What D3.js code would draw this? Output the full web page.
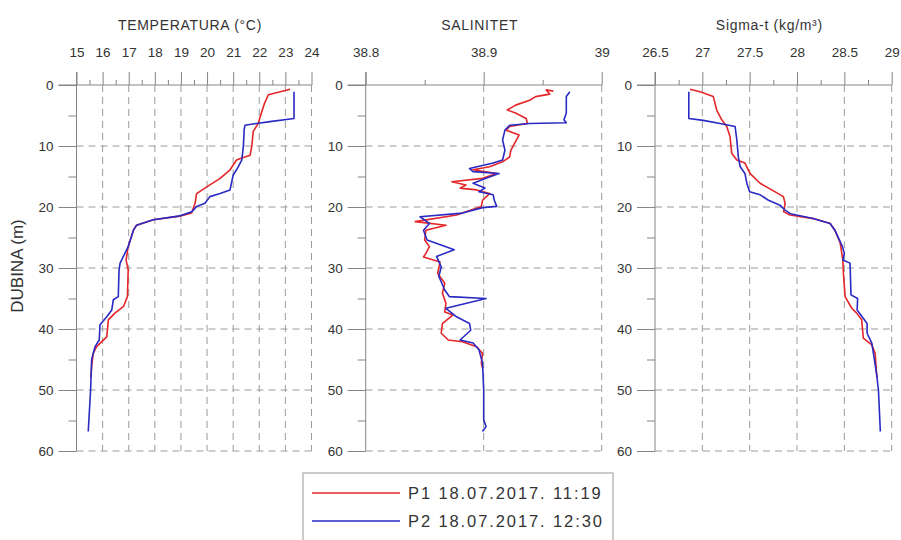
<!DOCTYPE html>
<html>
<head>
<meta charset="utf-8">
<script src="https://cdn.jsdelivr.net/npm/d3@7"></script>
<style>
  body { margin: 0; background: #fff; }
  svg { font-family: "Liberation Sans", Arial, sans-serif; }
</style>
</head>
<body>
<svg id="chart" width="901" height="540"></svg>
<script>
// profiles as [depth (m), value]
const tempP1 = [[0.7,23.18],[1.6,22.35],[3,22.2],[5,22.05],[6.3,21.96],[7.6,21.77],[10.1,21.71],[11.5,21.65],[12,21.3],[12.3,21.13],[13.9,20.88],[15.3,20.5],[16.7,19.99],[17.8,19.6],[19.4,19.54],[21,19.41],[21.5,18.96],[22.1,17.94],[23,17.3],[23.8,17.18],[26.5,16.98],[28.7,16.9],[30.3,16.98],[34.7,16.95],[36.3,16.8],[37.4,16.47],[38.5,16.22],[41.3,16.16],[42.9,15.77],[44,15.64],[46.2,15.58],[48,15.55]];
const tempP2 = [[1.1,23.33],[5.5,23.33],[6,22.41],[6.3,21.9],[6.6,21.45],[7.4,21.42],[10.1,21.39],[12.3,21.33],[13.9,21.13],[14.75,21.0],[17.2,20.88],[17.8,20.5],[18.3,20.11],[19.4,19.92],[19.9,19.6],[20.8,19.41],[21.5,18.9],[22.1,17.94],[23,17.3],[23.8,17.18],[26.5,16.98],[29.2,16.67],[30.3,16.63],[34.7,16.6],[35.2,16.41],[36.9,16.35],[38,16.16],[39.3,15.9],[41.8,15.87],[42.9,15.71],[45,15.58],[50,15.54],[56.8,15.45]];

const salP1 = [[1,38.959],[0.8,38.953],[1.5,38.956],[1.9,38.944],[2.5,38.939],[3.3,38.927],[4.1,38.92],[4.6,38.927],[5.5,38.936],[6.3,38.937],[6.8,38.922],[7.4,38.919],[8.2,38.93],[9.6,38.926],[10.7,38.923],[11.8,38.922],[12.6,38.916],[13.4,38.905],[13.9,38.891],[14.5,38.911],[15.3,38.899],[15.85,38.873],[16.4,38.885],[16.9,38.88],[17.2,38.894],[17.8,38.905],[18.9,38.899],[19.9,38.898],[21.3,38.877],[22.4,38.842],[23,38.868],[23.8,38.851],[25.4,38.85],[26.5,38.854],[27.6,38.851],[28.2,38.849],[29,38.863],[30.9,38.861],[32.5,38.867],[34.1,38.865],[35.8,38.868],[37.2,38.867],[37.7,38.874],[39.1,38.865],[40.7,38.864],[41.8,38.87],[42.1,38.882],[42.9,38.894],[44,38.899],[45.6,38.898],[46.4,38.899]];
const salP2 = [[1.1,38.973],[1.9,38.97],[4.6,38.97],[5.7,38.968],[6.2,38.97],[6.3,38.939],[6.6,38.922],[7.4,38.918],[9,38.916],[10.7,38.918],[12.3,38.916],[12.8,38.908],[13.7,38.888],[14.2,38.891],[14.5,38.913],[15.3,38.902],[16.1,38.891],[16.9,38.901],[17.5,38.896],[18,38.908],[18.9,38.909],[19.9,38.911],[20.1,38.899],[21,38.882],[21.6,38.846],[22.7,38.854],[23.8,38.849],[25.4,38.852],[26.5,38.868],[27,38.875],[28.1,38.86],[29.8,38.864],[31.4,38.862],[33.6,38.867],[34.7,38.871],[35,38.902],[36.6,38.868],[38,38.877],[39.1,38.888],[40.2,38.889],[41.8,38.88],[42.3,38.891],[43.4,38.896],[45.6,38.899],[50,38.9],[54.9,38.9],[56,38.902],[56.8,38.899]];

const sigP1 = [[0.7,26.87],[1.1,26.976],[1.9,27.116],[4.1,27.152],[5.7,27.205],[6.8,27.258],[8.5,27.293],[11.2,27.31],[12.3,27.364],[12.8,27.45],[14.5,27.503],[16.1,27.61],[17.2,27.733],[18.3,27.856],[19.4,27.874],[20.8,27.86],[21.3,27.927],[21.9,28.173],[22.7,28.35],[23.8,28.4],[25.9,28.456],[28.7,28.484],[30.9,28.49],[34.7,28.508],[36.6,28.578],[37.4,28.63],[38.5,28.683],[41.5,28.7],[42.6,28.79],[44,28.825],[47.3,28.84],[48,28.845]];
const sigP2 = [[1.1,26.857],[5.5,26.857],[5.8,27.01],[6.3,27.187],[6.8,27.346],[9,27.364],[11.8,27.38],[13.4,27.4],[14.5,27.45],[16.1,27.47],[17.5,27.5],[18,27.61],[18.9,27.698],[19.7,27.82],[20.5,27.874],[21.1,27.93],[21.9,28.17],[22.7,28.35],[23.8,28.4],[26.5,28.48],[27.6,28.5],[28.7,28.484],[29.2,28.56],[34.4,28.57],[35,28.64],[36.9,28.635],[39.1,28.74],[40.7,28.74],[42.3,28.79],[47.3,28.84],[50,28.86],[56.8,28.88]];

const depthTicks = [0, 10, 20, 30, 40, 50, 60];
const depthMinor = [5, 15, 25, 35, 45, 55];
const seriesNames = ["P1 18.07.2017. 11:19", "P2 18.07.2017. 12:30"];
const seriesColors = ["#e4262a", "#2a2ac4"];

const panels = [
  { title: "TEMPERATURA (°C)", range: [76.5, 311.5], domain: [15, 24],
    major: [15, 16, 17, 18, 19, 20, 21, 22, 23, 24],
    minor: [15.5, 16.5, 17.5, 18.5, 19.5, 20.5, 21.5, 22.5, 23.5],
    series: [tempP1, tempP2] },
  { title: "SALINITET", range: [365.7, 601.7], domain: [38.8, 39],
    major: [38.8, 38.9, 39], minor: [38.85, 38.95],
    series: [salP1, salP2] },
  { title: "Sigma-t (kg/m³)", range: [655, 891.7], domain: [26.5, 29],
    major: [26.5, 27, 27.5, 28, 28.5, 29],
    minor: [26.75, 27.25, 27.75, 28.25, 28.75],
    series: [sigP1, sigP2] }
];

const svg = d3.select("#chart");
const axisColor = "#858585";
const gridColor = "#9c9c9c";
const y = d3.scaleLinear().domain([0, 60]).range([85, 451]);

panels.forEach((p) => {
  const x = d3.scaleLinear().domain(p.domain).range(p.range);
  const g = svg.append("g");

  // dashed grid
  g.selectAll(".vgrid")
    .data(p.major.slice(1))
    .join("line")
    .attr("x1", (d) => x(d)).attr("x2", (d) => x(d))
    .attr("y1", y(0)).attr("y2", y(60))
    .attr("stroke", gridColor).attr("stroke-dasharray", "7,5");
  g.selectAll(".hgrid")
    .data(depthTicks.slice(1))
    .join("line")
    .attr("x1", p.range[0]).attr("x2", p.range[1])
    .attr("y1", (d) => y(d)).attr("y2", (d) => y(d))
    .attr("stroke", gridColor).attr("stroke-dasharray", "7,5");

  // top axis
  const top = g.append("g").attr("transform", `translate(0,${y(0)})`);
  top.call(d3.axisTop(x).tickValues(p.major).tickSize(13).tickPadding(15)
    .tickFormat(d3.format("~g")));
  top.append("g").call(d3.axisTop(x).tickValues(p.minor).tickSize(5).tickFormat(""));
  top.selectAll(".domain").remove();
  top.selectAll("line").attr("stroke", axisColor);
  top.selectAll("text").attr("fill", "#333").attr("font-size", 13.5)
    .attr("font-family", "Liberation Sans, Arial, sans-serif");
  g.append("line")
    .attr("x1", p.range[0] - 18).attr("x2", p.range[1])
    .attr("y1", y(0)).attr("y2", y(0)).attr("stroke", axisColor);

  // left axis
  const left = g.append("g").attr("transform", `translate(${p.range[0]},0)`);
  left.call(d3.axisLeft(y).tickValues(depthTicks).tickSize(18).tickPadding(5));
  left.append("g").call(d3.axisLeft(y).tickValues(depthMinor).tickSize(8).tickFormat(""));
  left.selectAll(".domain").remove();
  left.selectAll("line").attr("stroke", axisColor);
  left.selectAll("text").attr("fill", "#333").attr("font-size", 13.5)
    .attr("font-family", "Liberation Sans, Arial, sans-serif");
  g.append("line")
    .attr("x1", p.range[0]).attr("x2", p.range[0])
    .attr("y1", y(0) - 13).attr("y2", y(60)).attr("stroke", axisColor);

  // title
  g.append("text")
    .attr("x", (p.range[0] + p.range[1]) / 2 - 4)
    .attr("y", 30)
    .attr("text-anchor", "middle")
    .attr("font-size", 14)
    .attr("letter-spacing", 0.7)
    .attr("fill", "#333")
    .text(p.title);

  // profiles
  const line = d3.line().x((d) => x(d[1])).y((d) => y(d[0]));
  g.selectAll(".profile")
    .data(p.series)
    .join("path")
    .attr("class", "profile")
    .attr("d", line)
    .attr("fill", "none")
    .attr("stroke", (d, i) => seriesColors[i])
    .attr("stroke-width", 1.6)
    .attr("stroke-linejoin", "round");
});

// depth label
svg.append("text")
  .attr("transform", "translate(23,266) rotate(-90)")
  .attr("text-anchor", "middle")
  .attr("font-size", 17)
  .attr("fill", "#333")
  .text("DUBINA (m)");

// legend
const legend = svg.append("g");
legend.append("rect")
  .attr("x", 303).attr("y", 473).attr("width", 310).attr("height", 80)
  .attr("fill", "#fff").attr("stroke", "#999");
seriesNames.forEach((name, i) => {
  const ly = 493 + i * 28;
  legend.append("line")
    .attr("x1", 312).attr("x2", 400).attr("y1", ly).attr("y2", ly)
    .attr("stroke", seriesColors[i]).attr("stroke-width", 1.5);
  legend.append("text")
    .attr("x", 408).attr("y", ly + 6)
    .attr("font-size", 16.5)
    .attr("letter-spacing", 1.9)
    .attr("fill", "#333")
    .text(name);
});
</script>
</body>
</html>
